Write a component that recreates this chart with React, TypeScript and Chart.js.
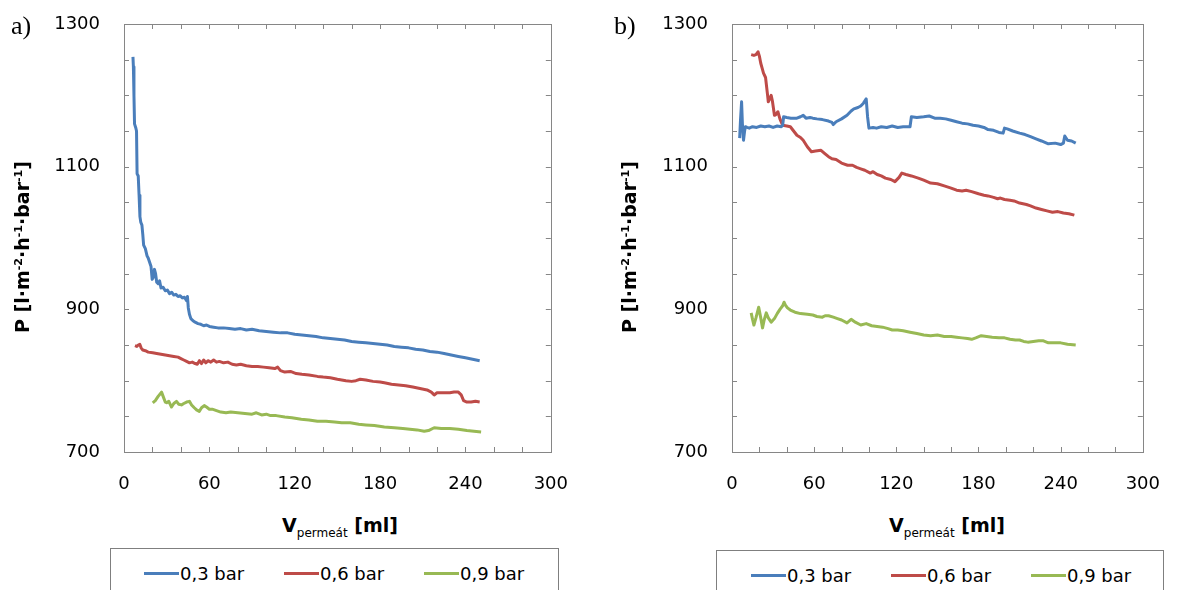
import React, { useEffect, useRef } from 'react';
import { Chart, registerables } from 'chart.js';
Chart.register(...registerables);

// ---------- data ----------
const SERIES_LABELS = ['0,3 bar', '0,6 bar', '0,9 bar'];
const COLORS = ['#4A7EBB', '#BE4B48', '#98B954'];

const X_MIN = 0;
const X_MAX = 300;
const X_STEP = 20;
const X_LABEL_STEP = 60;
const Y_MIN = 700;
const Y_MAX = 1300;
const Y_STEP = 50;
const Y_LABEL_STEP = 200;

// panel a) 0,3 bar
const vA03 = [6.3, 6.6, 7.0, 7.4, 8.2, 8.8, 9.2, 10.0, 10.6, 11.2, 11.8, 12.6, 13.2, 13.8, 15.0, 16.2, 17.0, 18.0, 19.0, 19.8, 20.6, 21.4, 22.2, 23.0, 24.0, 25.0, 26.0, 27.5, 29.0, 30.5, 32.0, 33.5, 35.0, 36.5, 38.0, 39.5, 41.0, 42.5, 44.0, 44.6, 45.2, 46.0, 47.0, 48.5, 50.0, 52.0, 54.0, 56.0, 58.0, 60.0, 63.0, 66.0, 70.0, 74.0, 78.0, 82.0, 86.0, 90.0, 95.0, 100.0, 105.0, 110.0, 115.0, 120.0, 125.0, 130.0, 135.0, 140.0, 145.0, 150.0, 155.0, 160.0, 165.0, 170.0, 175.0, 180.0, 185.0, 190.0, 195.0, 200.0, 205.0, 210.0, 215.0, 220.0, 225.0, 230.0, 235.0, 240.0, 245.0, 250.0];
const pA03 = [1254, 1240, 1200, 1160, 1155, 1150, 1090, 1087, 1060, 1030, 1022, 1018, 1005, 990, 985, 975, 972, 966, 960, 942, 945, 956, 950, 938, 936, 940, 930, 931, 926, 927, 922, 924, 920, 921, 918, 919, 916, 917, 912, 918, 902, 893, 887, 884, 882, 880, 879, 877, 878, 876, 875, 874, 874, 873, 872, 873, 871, 872, 870, 869, 868, 867, 867, 865, 864, 863, 862, 860, 859, 858, 857, 855, 854, 853, 852, 851, 850, 848, 847, 846, 844, 843, 841, 840, 838, 836, 834, 832, 830, 828];

// panel a) 0,6 bar
const vA06 = [7.7, 9.0, 10.0, 11.1, 12.0, 13.2, 15.0, 17.0, 20.2, 23.0, 26.0, 29.0, 32.0, 35.0, 38.0, 40.0, 42.0, 44.0, 46.0, 48.0, 50.0, 51.5, 53.0, 54.5, 56.0, 57.5, 59.0, 61.0, 63.0, 65.0, 67.0, 70.0, 73.0, 76.0, 79.0, 82.0, 86.0, 90.0, 94.0, 98.0, 102.0, 106.0, 108.0, 110.0, 113.0, 117.0, 121.0, 125.0, 130.0, 136.0, 140.0, 145.0, 150.0, 153.0, 156.0, 160.0, 163.0, 166.0, 170.0, 175.0, 180.0, 183.0, 188.0, 193.0, 198.0, 203.0, 208.0, 213.0, 216.0, 218.0, 220.0, 224.0, 229.0, 232.0, 235.0, 237.0, 238.7, 241.0, 244.0, 247.0, 250.0];
const pA06 = [849, 848, 850, 851, 846, 843, 842, 840, 839, 838, 837, 836, 835, 834, 833, 831, 829, 827, 825, 826, 824, 823, 828, 824, 829, 825, 828, 826, 829, 826, 827, 825, 826, 823, 822, 823, 821, 820, 820, 819, 818, 817, 819, 814, 812, 813, 810, 809, 808, 806, 805, 804, 802, 801, 800, 799, 800, 802, 801, 799, 798, 797, 795, 794, 793, 791, 789, 787, 784, 780, 783, 783, 783, 784, 784, 780, 772, 770, 770, 771, 770];

// panel a) 0,9 bar
const vA09 = [20.2, 22.0, 24.0, 26.4, 27.5, 29.0, 30.0, 31.5, 33.4, 35.0, 36.9, 38.5, 40.4, 42.0, 44.0, 46.0, 47.5, 49.4, 51.0, 52.9, 54.5, 56.4, 58.0, 60.0, 62.0, 65.0, 68.0, 71.7, 75.0, 80.0, 85.0, 90.0, 93.0, 96.7, 100.0, 103.0, 107.0, 113.0, 118.0, 124.6, 130.0, 136.0, 142.0, 148.0, 153.0, 159.0, 165.0, 170.0, 176.0, 183.0, 190.0, 196.0, 201.0, 206.0, 211.0, 214.0, 218.0, 223.0, 229.0, 235.0, 241.0, 246.0, 251.0];
const pA09 = [769, 772, 778, 784, 778, 770, 769, 771, 763, 768, 771, 767, 766, 768, 770, 771, 766, 762, 759, 757, 762, 765, 763, 760, 760, 758, 756, 755, 756, 755, 754, 753, 755, 752, 753, 751, 751, 749, 748, 746, 745, 743, 743, 742, 741, 741, 739, 738, 737, 735, 734, 733, 732, 731, 729, 730, 734, 733, 733, 732, 730, 729, 728];

// panel b) 0,3 bar
const vB03 = [5.6, 6.2, 7.0, 7.6, 8.4, 9.2, 9.8, 11.0, 12.6, 15.0, 18.0, 21.0, 24.0, 27.0, 30.0, 33.0, 36.0, 37.0, 37.7, 40.0, 43.0, 47.4, 50.0, 52.0, 54.0, 57.0, 59.0, 62.0, 66.0, 70.5, 73.0, 74.0, 76.0, 80.0, 84.0, 87.0, 89.0, 92.0, 94.0, 96.0, 98.0, 99.0, 100.0, 103.0, 105.6, 109.0, 113.0, 117.0, 121.0, 125.0, 130.0, 131.0, 135.0, 140.0, 144.0, 148.0, 152.0, 156.0, 160.0, 164.0, 168.0, 172.0, 176.0, 180.0, 184.0, 187.0, 191.0, 195.0, 198.0, 199.0, 201.0, 205.0, 210.0, 214.0, 218.0, 222.0, 226.0, 231.0, 236.0, 240.0, 242.0, 243.0, 245.0, 248.0, 251.0];
const pB03 = [1140, 1165, 1191, 1160, 1137, 1150, 1156, 1155, 1154, 1156, 1155, 1157, 1156, 1157, 1155, 1157, 1156, 1158, 1170, 1169, 1168, 1168, 1170, 1172, 1168, 1169, 1168, 1167, 1166, 1164, 1162, 1159, 1163, 1167, 1172, 1178, 1181, 1183, 1185, 1189, 1195, 1170, 1154, 1155, 1154, 1156, 1155, 1157, 1155, 1156, 1156, 1170, 1169, 1170, 1171, 1168, 1168, 1167, 1165, 1163, 1161, 1160, 1158, 1157, 1155, 1152, 1151, 1148, 1147, 1154, 1153, 1150, 1147, 1145, 1142, 1139, 1136, 1132, 1133, 1131, 1133, 1143, 1137, 1136, 1133];

// panel b) 0,6 bar
const vB06 = [14.0, 16.0, 17.5, 19.0, 20.0, 21.0, 22.0, 23.0, 24.5, 26.0, 26.5, 27.5, 28.6, 29.5, 31.0, 32.0, 33.5, 35.0, 37.0, 40.0, 42.6, 45.0, 47.4, 50.0, 52.0, 55.0, 58.0, 61.0, 65.0, 68.0, 70.5, 73.0, 76.0, 80.0, 84.4, 88.0, 91.0, 94.0, 97.0, 101.0, 103.0, 106.0, 109.0, 112.0, 116.0, 119.0, 122.0, 124.0, 127.0, 131.0, 136.0, 140.0, 145.0, 150.0, 155.0, 160.0, 164.0, 168.0, 171.0, 175.0, 180.0, 184.0, 187.0, 191.0, 194.0, 196.0, 199.0, 203.0, 206.0, 210.0, 215.0, 218.0, 222.0, 226.0, 230.0, 234.0, 238.0, 242.0, 246.0, 250.0];
const pB06 = [1257, 1256, 1257, 1261, 1255, 1245, 1238, 1231, 1225, 1200, 1191, 1195, 1200, 1192, 1172, 1173, 1177, 1167, 1158, 1157, 1156, 1150, 1144, 1141, 1137, 1128, 1121, 1122, 1123, 1118, 1114, 1111, 1110, 1105, 1102, 1102, 1099, 1097, 1095, 1091, 1093, 1089, 1087, 1084, 1082, 1079, 1085, 1091, 1089, 1087, 1084, 1081, 1077, 1076, 1073, 1070, 1067, 1066, 1067, 1065, 1062, 1060, 1059, 1057, 1055, 1056, 1054, 1053, 1052, 1049, 1047, 1045, 1042, 1040, 1038, 1036, 1037, 1035, 1034, 1032];

// panel b) 0,9 bar
const vB09 = [14.0, 15.0, 16.0, 17.5, 19.5, 21.0, 22.3, 23.5, 25.0, 26.5, 28.6, 31.0, 33.0, 35.0, 37.0, 38.0, 39.0, 40.5, 42.6, 46.0, 50.0, 55.0, 59.0, 62.0, 66.0, 68.0, 70.5, 74.0, 77.0, 80.0, 84.0, 87.0, 90.0, 94.0, 98.0, 102.0, 106.0, 110.0, 114.0, 117.0, 121.0, 125.0, 130.0, 135.0, 140.0, 145.0, 150.0, 155.0, 160.0, 164.0, 168.0, 172.0, 175.0, 178.0, 182.0, 186.0, 190.0, 195.0, 199.0, 203.0, 207.0, 210.0, 213.0, 216.0, 220.0, 224.0, 227.0, 231.0, 236.0, 240.0, 245.0, 251.0];
const pB09 = [895, 886, 878, 888, 903, 888, 874, 885, 895, 888, 882, 887, 894, 900, 905, 910, 906, 902, 899, 896, 894, 893, 892, 890, 889, 891, 891, 889, 887, 885, 881, 886, 882, 878, 880, 877, 876, 875, 873, 871, 871, 870, 868, 866, 864, 863, 864, 862, 862, 861, 860, 859, 858, 860, 863, 862, 861, 860, 860, 858, 857, 857, 855, 854, 855, 856, 856, 853, 853, 853, 851, 850];

// ---------- chart ----------
const FONT = '"DejaVu Sans", Verdana, sans-serif';
const AXIS_COLOR = '#868686';

const frameTicks = {
  id: 'frameTicks',
  afterDraw(chart: any) {
    const { ctx, chartArea: a, scales } = chart;
    const L = 5;
    ctx.save();
    ctx.strokeStyle = AXIS_COLOR;
    ctx.lineWidth = 1;
    ctx.strokeRect(Math.round(a.left) + 0.5, Math.round(a.top) + 0.5, Math.round(a.right - a.left), Math.round(a.bottom - a.top));
    ctx.beginPath();
    scales.x.ticks.forEach((t: any) => {
      const px = Math.round(scales.x.getPixelForValue(t.value)) + 0.5;
      ctx.moveTo(px, a.bottom);
      ctx.lineTo(px, a.bottom - L);
      ctx.moveTo(px, a.top);
      ctx.lineTo(px, a.top + L);
    });
    scales.y.ticks.forEach((t: any) => {
      const py = Math.round(scales.y.getPixelForValue(t.value)) + 0.5;
      ctx.moveTo(a.left, py);
      ctx.lineTo(a.left + L, py);
      ctx.moveTo(a.right, py);
      ctx.lineTo(a.right - L, py);
    });
    ctx.stroke();
    ctx.restore();
  },
};

type Series = { v: number[]; p: number[] };

function Panel({ series, width, height, leftW, rightPad }: { series: Series[]; width: number; height: number; leftW: number; rightPad: number }) {
  const ref = useRef<HTMLCanvasElement>(null);
  useEffect(() => {
    if (!ref.current) return;
    const chart = new Chart(ref.current, {
      type: 'line',
      data: {
        datasets: series.map((s, i) => ({
          label: SERIES_LABELS[i],
          data: s.v.map((v, j) => ({ x: v, y: s.p[j] })),
          borderColor: COLORS[i],
          backgroundColor: COLORS[i],
          borderWidth: 3,
          pointRadius: 0,
          tension: 0,
          borderJoinStyle: 'round',
          fill: false,
        })),
      },
      options: {
        animation: false,
        responsive: false,
        devicePixelRatio: 1,
        layout: { padding: { top: 24, right: rightPad, left: 0, bottom: 0 } },
        plugins: { legend: { display: false }, tooltip: { enabled: false } },
        scales: {
          x: {
            type: 'linear',
            min: X_MIN,
            max: X_MAX,
            grid: { display: false, drawTicks: false },
            border: { display: false },
            ticks: {
              stepSize: X_STEP,
              autoSkip: false,
              maxRotation: 0,
              padding: 22,
              color: '#000',
              font: { family: FONT, size: 18 },
              callback: (v: any) => ((Number(v) - X_MIN) % X_LABEL_STEP === 0 ? String(v) : ''),
            },
            afterFit: (s: any) => {
              s.height = 48;
            },
          },
          y: {
            type: 'linear',
            min: Y_MIN,
            max: Y_MAX,
            grid: { display: false, drawTicks: false },
            border: { display: false },
            ticks: {
              stepSize: Y_STEP,
              autoSkip: false,
              padding: 24,
              color: '#000',
              font: { family: FONT, size: 18 },
              callback: (v: any) => ((Number(v) - Y_MIN) % Y_LABEL_STEP === 0 ? String(v) : ''),
            },
            afterFit: (s: any) => {
              s.width = leftW;
              s.paddingTop = 0;
              s.paddingBottom = 0;
            },
          },
        },
      } as any,
      plugins: [frameTicks],
    });
    return () => chart.destroy();
  }, []);
  return <canvas ref={ref} width={width} height={height} style={{ display: 'block', width, height }} />;
}

function YTitle({ cx, cy }: { cx: number; cy: number }) {
  const sup = { fontSize: 11, verticalAlign: 'super', lineHeight: 0 } as React.CSSProperties;
  return (
    <div
      style={{
        position: 'absolute',
        left: cx,
        top: cy,
        transform: 'translate(-50%, -50%) rotate(-90deg)',
        whiteSpace: 'nowrap',
        fontFamily: FONT,
        fontWeight: 'bold',
        fontSize: 19,
        lineHeight: '24px',
        color: '#000',
      }}
    >
      P [l·m<span style={sup}>-2</span>·h<span style={sup}>-1</span>·bar<span style={sup}>-1</span>]
    </div>
  );
}

function XTitle({ cx, cy }: { cx: number; cy: number }) {
  return (
    <div
      style={{
        position: 'absolute',
        left: cx,
        top: cy,
        transform: 'translate(-50%, -50%)',
        whiteSpace: 'nowrap',
        fontFamily: FONT,
        fontWeight: 'bold',
        fontSize: 19,
        lineHeight: '24px',
        color: '#000',
      }}
    >
      V<span style={{ fontSize: 12, fontWeight: 'normal', verticalAlign: 'sub', lineHeight: 0 }}>permeát</span> [ml]
    </div>
  );
}

function Legend({ left, top, width, first }: { left: number; top: number; width: number; first: number }) {
  return (
    <div
      style={{
        position: 'absolute',
        left,
        top,
        width,
        height: 70,
        border: '1px solid #7f7f7f',
        boxSizing: 'border-box',
        background: '#fff',
      }}
    >
      {SERIES_LABELS.map((lab, i) => (
        <div
          key={lab}
          style={{
            position: 'absolute',
            left: first + i * 140,
            top: 12,
            height: 24,
            display: 'flex',
            alignItems: 'center',
            whiteSpace: 'nowrap',
            fontFamily: FONT,
            fontSize: 18,
            color: '#000',
          }}
        >
          <span style={{ display: 'inline-block', width: 35, height: 3, background: COLORS[i], marginRight: 1 }} />
          {lab}
        </div>
      ))}
    </div>
  );
}

const panelLabel = (text: string, left: number) => (
  <div
    style={{
      position: 'absolute',
      left,
      top: 11,
      fontFamily: '"Liberation Serif", "Times New Roman", serif',
      fontSize: 26,
      lineHeight: '30px',
      color: '#000',
    }}
  >
    {text}
  </div>
);

export default function App() {
  const seriesA: Series[] = [
    { v: vA03, p: pA03 },
    { v: vA06, p: pA06 },
    { v: vA09, p: pA09 },
  ];
  const seriesB: Series[] = [
    { v: vB03, p: pB03 },
    { v: vB06, p: pB06 },
    { v: vB09, p: pB09 },
  ];
  return (
    <div style={{ position: 'absolute', left: 0, top: 0, width: 1182, height: 590, overflow: 'hidden', background: '#fff' }}>
      <div style={{ position: 'absolute', left: 0, top: 0 }}>
        <Panel series={seriesA} width={590} height={500} leftW={124} rightPad={35} />
      </div>
      <div style={{ position: 'absolute', left: 590, top: 0 }}>
        <Panel series={seriesB} width={592} height={500} leftW={142} rightPad={20} />
      </div>
      {panelLabel('a)', 11)}
      {panelLabel('b)', 614)}
      <YTitle cx={22} cy={247} />
      <YTitle cx={629} cy={247} />
      <XTitle cx={340} cy={525} />
      <XTitle cx={947} cy={525} />
      <Legend left={110} top={548} width={449} first={33} />
      <Legend left={716} top={550} width={448} first={34} />
    </div>
  );
}
